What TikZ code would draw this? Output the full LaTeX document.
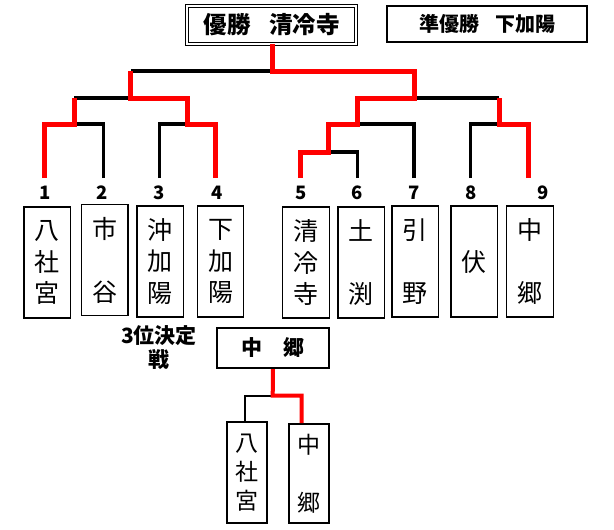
\documentclass[tikz,border=0pt]{standalone}
\usepackage{fontspec}
\newfontfamily\jp{Noto Sans CJK JP}
\newcommand{\tate}[3]{#1\\#2\\#3}

\begin{document}
\begin{tikzpicture}[x=1pt,y=-1pt,
  win/.style={draw=red,line width=5pt},
  lose/.style={draw=black,line width=3.5pt},
  namebox/.style={draw,line width=1.2pt,minimum width=46.5pt,minimum height=111pt,
    inner sep=0pt,align=center,font=\jp\fontsize{25}{31.5}\selectfont},
  num/.style={font=\jp\bfseries\fontsize{18.5}{18}\selectfont},
  titlebox/.style={draw,inner sep=0pt,font=\jp\bfseries\fontsize{20}{20}\selectfont}]
  \useasboundingbox (0,0) rectangle (614,530);

  % result boxes
  \node[titlebox,double,double distance=2pt,line width=0.9pt,minimum width=169pt,
    minimum height=38pt,font=\jp\bfseries\fontsize{23.5}{23.5}\selectfont] (champ) at (271.7,25) {優勝\hspace{.8em}清冷寺};
  \node[titlebox,line width=2pt,minimum width=200pt,minimum height=36pt] (second) at (487,24) {準優勝\hspace{.8em}下加陽};

  % entry numbers
  \node[num] (n1) at (45,193) {1};
  \node[num] (n2) at (102,193) {2};
  \node[num] (n3) at (159,193) {3};
  \node[num] (n4) at (217,193) {4};
  \node[num] (n5) at (301,193) {5};
  \node[num] (n6) at (357,193) {6};
  \node[num] (n7) at (414,193) {7};
  \node[num] (n8) at (471.5,193) {8};
  \node[num] (n9) at (543,193) {9};

  % teams
  \node[namebox] (b1) at (47.3,262.5) {\tate{八}{社}{宮}};
  \node[namebox] (b2) at (104.7,260) {\tate{市}{}{谷}};
  \node[namebox] (b3) at (160.2,261.5) {\tate{沖}{加}{陽}};
  \node[namebox] (b4) at (220.5,261.5) {\tate{下}{加}{陽}};
  \node[namebox] (b5) at (305.9,262.5) {\tate{清}{冷}{寺}};
  \node[namebox] (b6) at (361.2,262.5) {\tate{土}{}{渕}};
  \node[namebox] (b7) at (415.3,261.5) {\tate{引}{}{野}};
  \node[namebox] (b8) at (474.3,261.5) {伏};
  \node[namebox] (b9) at (530,261.5) {\tate{中}{}{郷}};

  % bracket points
  \coordinate (l1) at (44.9,178);
  \coordinate (l2) at (103.5,178);
  \coordinate (l3) at (159.4,178);
  \coordinate (l4) at (215.6,178);
  \coordinate (l5) at (300,178);
  \coordinate (l6) at (357.4,178);
  \coordinate (l7) at (414,178);
  \coordinate (l8) at (470.7,178);
  \coordinate (l9) at (528,178);
  \coordinate (m12) at (74.2,124);
  \coordinate (m34) at (187.5,124);
  \coordinate (m56) at (328,152);
  \coordinate (m567) at (357.4,124);
  \coordinate (m89) at (499.2,124);
  \coordinate (s1) at (130.9,98);
  \coordinate (s2) at (414,98);
  \coordinate (f) at (272.3,71);

  \draw[lose] (l2) |- (m12);
  \draw[lose] (l3) |- (m34);
  \draw[lose] (m12 |- s1) -- (s1);
  \draw[lose] (s1 |- f) -- (f);
  \draw[lose] (l6) |- (m56);
  \draw[lose] (l7) |- (m567);
  \draw[lose] (l8) |- (m89);
  \draw[lose] (m89 |- s2) -- (s2);
  \draw[win] (l1) |- (m12) -- (m12 |- s1);
  \draw[win] (l4) |- (m34) |- (s1) -- (s1 |- f);
  \draw[win] (l9) |- (m89) -- (m89 |- s2);
  \draw[win] (l5) |- (m56) |- (m567) |- (s2) |- (f) -- (f |- champ.south);

  % third place
  \node[font=\jp\bfseries\fontsize{21}{24}\selectfont,align=center] (thirdlbl) at (159,348) {3位決定\\戦};
  \node[titlebox,line width=2.2pt,minimum width=112pt,minimum height=40pt,
    font=\jp\bfseries\fontsize{21}{21}\selectfont] (third) at (273,348) {中　郷};
  \node[namebox,line width=1.3pt,minimum width=40pt,minimum height=101pt,
    font=\jp\fontsize{23}{29}\selectfont] (c1) at (247,472.5) {\tate{八}{社}{宮}};
  \node[namebox,line width=1.3pt,minimum width=40pt,minimum height=99pt,
    font=\jp\fontsize{23}{29}\selectfont] (c2) at (309,473.5) {\tate{中}{}{郷}};
  \coordinate (j3) at (272.7,395.5);
  \coordinate (k1) at (245,422);
  \coordinate (k2) at (301.7,423);
  \draw[lose,line width=2pt] (j3) -| (k1);
  \draw[win,line width=4pt] (third.south) -- (j3) -| (k2);
\end{tikzpicture}
\end{document}
